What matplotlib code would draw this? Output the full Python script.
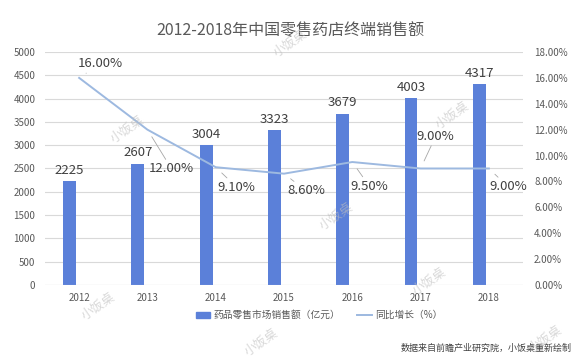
import matplotlib
matplotlib.use("Agg")
import matplotlib.pyplot as plt
from matplotlib.ticker import FuncFormatter
from matplotlib.patches import Patch
from matplotlib.lines import Line2D

plt.rcParams['font.family'] = ['Noto Sans CJK SC', 'DejaVu Sans']

years = ['2012', '2013', '2014', '2015', '2016', '2017', '2018']
sales = [2225, 2607, 3004, 3323, 3679, 4003, 4317]
growth = [16.0, 12.0, 9.1, 8.6, 9.5, 9.0, 9.0]
# label offsets (px) for the growth labels
label_dx = [21, 24, 21, 22, 17, 15, 19]
label_dy = [14, -39, -20, -17, -24, 32, -18]

bar_color = '#5B80D9'
line_color = '#9DB9E0'
text_color = '#404040'
tick_color = '#595959'

fig = plt.figure(figsize=(5.8, 3.61), dpi=100)
ax = fig.add_axes([0.0776, 0.2105, 0.9017 - 0.0776, 0.856 - 0.2105])
ax2 = ax.twinx()

x = list(range(len(years)))
ax.bar([i - 0.14 for i in x], sales, width=0.19, color=bar_color, zorder=2)
for i, v in enumerate(sales):
    ax.annotate(str(v), (i - 0.14, v), xytext=(0, 3), textcoords='offset points',
                ha='center', va='bottom', fontsize=9.5, color=text_color)

ax.set_xlim(-0.5, 6.5)
ax.set_ylim(0, 5000)
ax.set_yticks(range(0, 5001, 500))
ax.set_xticks(x)
ax.set_xticklabels(years)
ax.grid(axis='y', color='#D9D9D9', lw=0.8, zorder=0)
ax.set_axisbelow(True)
for s in ax.spines.values():
    s.set_visible(False)
for s in ax2.spines.values():
    s.set_visible(False)
ax.axhline(0, color='#D9D9D9', lw=0.8)
ax.tick_params(axis='both', length=0, labelsize=7, colors=tick_color)
ax.tick_params(axis='x', pad=6)
ax.tick_params(axis='y', pad=7)

ax2.plot(x, growth, color=line_color, lw=1.4, zorder=3)
ax2.set_ylim(0, 18)
ax2.set_yticks(range(0, 19, 2))
ax2.yaxis.set_major_formatter(FuncFormatter(lambda v, p: f'{v:.2f}%'))
ax2.tick_params(axis='y', length=0, labelsize=7, colors=tick_color, pad=8)

for i, g in enumerate(growth):
    ax2.annotate(f'{g:.2f}%', (i, g),
                 xytext=(label_dx[i] * 0.72, label_dy[i] * 0.72), textcoords='offset points',
                 ha='center', va='center', fontsize=9.5, color=text_color,
                 arrowprops=dict(arrowstyle='-', color='#A6A6A6', lw=0.6,
                                 shrinkA=0, shrinkB=6))

fig.text(0.5, 0.915, '2012-2018年中国零售药店终端销售额', ha='center', va='center',
         fontsize=11.5, color='#595959')

handles = [Patch(color=bar_color), Line2D([], [], color=line_color, lw=1.4)]
fig.legend(handles, ['药品零售市场销售额（亿元）', '同比增长（%）'],
           loc='center', bbox_to_anchor=(0.55, 0.127), ncol=2, frameon=False,
           fontsize=7, labelcolor=tick_color, handlelength=1.5, handleheight=0.6,
           handletextpad=0.3, columnspacing=1.8)

fig.text(0.985, 0.035, '数据来自前瞻产业研究院，小饭桌重新绘制', ha='right', va='center',
         fontsize=6.5, color='#404040')

# watermarks
for wx, wy in [(0.50, 0.88), (0.22, 0.64), (0.17, 0.15), (0.58, 0.40),
               (0.74, 0.22), (0.78, 0.68), (0.94, 0.06), (0.45, 0.05)]:
    fig.text(wx, wy, '小饭桌', rotation=35, fontsize=9, color='#BFBFBF',
             alpha=0.6, ha='center', va='center')

fig.savefig('out.png', dpi=100)
